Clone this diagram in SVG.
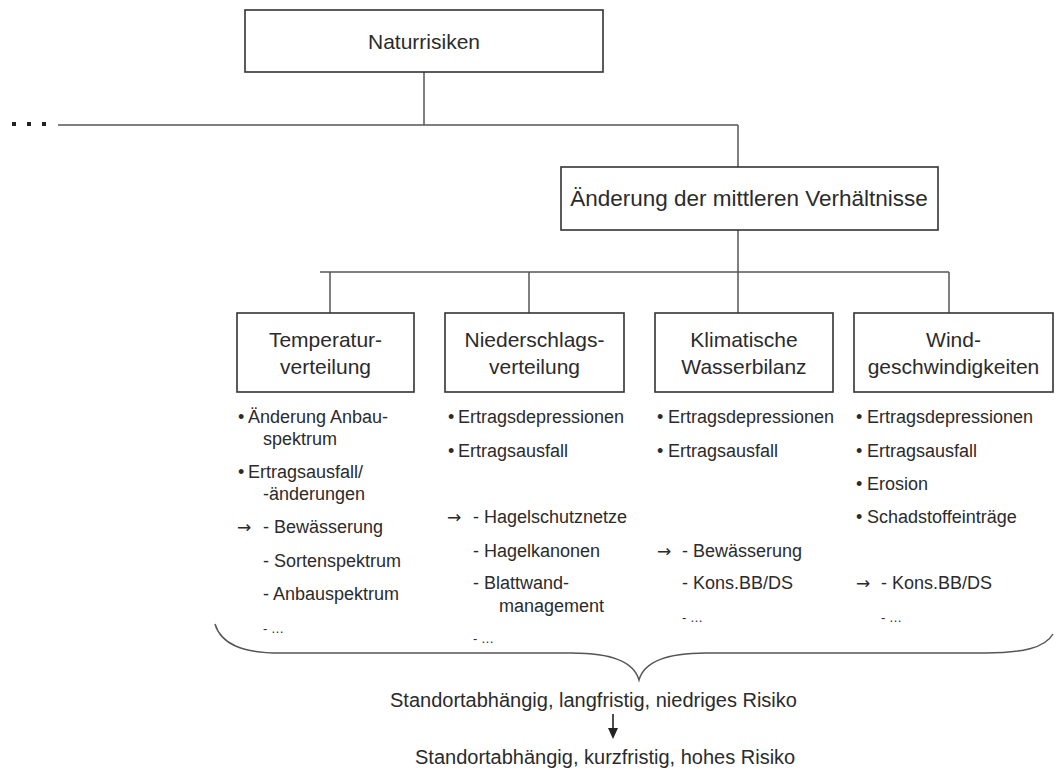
<svg xmlns="http://www.w3.org/2000/svg" width="1055" height="778" viewBox="0 0 1055 778">
  <style>
    .box { fill: #fff; stroke: #333; stroke-width: 1.6; }
    .ln { fill: none; stroke: #555; stroke-width: 1.5; }
    .t { font-family: "Liberation Sans", Arial, sans-serif; fill: #2b2b2b; }
    .title { font-size: 21px; text-anchor: middle; }
    .li { font-size: 18px; }
    .sm { font-size: 13px; }
    .arr { font-family: "DejaVu Sans", sans-serif; font-size: 17px; }
    .bottom { font-size: 20px; }
  </style>
  <rect width="1055" height="778" fill="#fff"/>

  <!-- connectors -->
  <g id="connectors">
    <rect x="12" y="122" width="4" height="4" fill="#222"/>
    <rect x="27" y="122" width="4" height="4" fill="#222"/>
    <rect x="42" y="122" width="4" height="4" fill="#222"/>
    <path class="ln" d="M58 125 H738 M424 72 V125 M738 125 V167 M738 230 V272 M320 272 H949 M330 272 V313 M529 272 V313 M738 272 V313 M949 272 V313"/>
    <!-- curly brace gathering the four columns -->
    <path class="ln" d="M215 624 C221 644 242 653 280 653 L572 653 C612 653 634 662 639 680 C644 662 666 653 706 653 L985 653 C1022 653 1045 648 1053 634" stroke="#333" stroke-width="2"/>
    <path d="M613 714 V729" stroke="#222" stroke-width="1.6"/>
    <polygon points="608,728 618,728 613,739" fill="#222"/>
  </g>

  <g id="node-naturrisiken">
    <rect class="box" x="245" y="10" width="358" height="62"/>
    <text class="t title" x="424" y="49">Naturrisiken</text>
  </g>

  <g id="node-aenderung">
    <rect class="box" x="561" y="167" width="377" height="63"/>
    <text class="t title" x="749" y="206" style="font-size:22.5px">Änderung der mittleren Verhältnisse</text>
  </g>

  <g id="node-temperatur">
    <rect class="box" x="237" y="313" width="177" height="79"/>
    <text class="t title" x="325.5" y="347">Temperatur-</text>
    <text class="t title" x="325.5" y="374">verteilung</text>
  </g>

  <g id="node-niederschlag">
    <rect class="box" x="445" y="313" width="179" height="79"/>
    <text class="t title" x="534.5" y="347">Niederschlags-</text>
    <text class="t title" x="534.5" y="374">verteilung</text>
  </g>

  <g id="node-wasserbilanz">
    <rect class="box" x="655" y="313" width="178" height="79"/>
    <text class="t title" x="744" y="347">Klimatische</text>
    <text class="t title" x="744" y="374">Wasserbilanz</text>
  </g>

  <g id="node-wind">
    <rect class="box" x="854" y="313" width="199" height="79"/>
    <text class="t title" x="953.5" y="347">Wind-</text>
    <text class="t title" x="953.5" y="374">geschwindigkeiten</text>
  </g>

  <!-- effects and measures, column 1 -->
  <g id="list-temperatur" class="t li">
    <text x="238" y="423">•</text><text x="248" y="423">Änderung Anbau-</text>
    <text x="263" y="445">spektrum</text>
    <text x="238" y="478">•</text><text x="248" y="478">Ertragsausfall/</text>
    <text x="263" y="500">-änderungen</text>
    <text class="arr" x="237" y="533">→</text><text x="263" y="533">- Bewässerung</text>
    <text x="263" y="567">- Sortenspektrum</text>
    <text x="263" y="600">- Anbauspektrum</text>
    <text class="sm" x="263" y="633">- …</text>
  </g>

  <!-- column 2 -->
  <g id="list-niederschlag" class="t li">
    <text x="448" y="423">•</text><text x="458" y="423">Ertragsdepressionen</text>
    <text x="448" y="457">•</text><text x="458" y="457">Ertragsausfall</text>
    <text class="arr" x="447" y="523">→</text><text x="473" y="523">- Hagelschutznetze</text>
    <text x="473" y="557">- Hagelkanonen</text>
    <text x="473" y="589">- Blattwand-</text>
    <text x="499" y="612">management</text>
    <text class="sm" x="473" y="643">- …</text>
  </g>

  <!-- column 3 -->
  <g id="list-wasserbilanz" class="t li">
    <text x="657" y="423">•</text><text x="668" y="423">Ertragsdepressionen</text>
    <text x="657" y="457">•</text><text x="668" y="457">Ertragsausfall</text>
    <text class="arr" x="657" y="557">→</text><text x="682" y="557">- Bewässerung</text>
    <text x="682" y="589">- Kons.BB/DS</text>
    <text class="sm" x="682" y="622">- …</text>
  </g>

  <!-- column 4 -->
  <g id="list-wind" class="t li">
    <text x="856" y="423">•</text><text x="867" y="423">Ertragsdepressionen</text>
    <text x="856" y="457">•</text><text x="867" y="457">Ertragsausfall</text>
    <text x="856" y="490">•</text><text x="867" y="490">Erosion</text>
    <text x="856" y="523">•</text><text x="867" y="523">Schadstoffeinträge</text>
    <text class="arr" x="856" y="589">→</text><text x="881" y="589">- Kons.BB/DS</text>
    <text class="sm" x="881" y="622">- …</text>
  </g>

  <g id="summary" class="t bottom">
    <text x="390" y="707">Standortabhängig, langfristig, niedriges Risiko</text>
    <text x="415" y="764">Standortabhängig, kurzfristig, hohes Risiko</text>
  </g>
</svg>
